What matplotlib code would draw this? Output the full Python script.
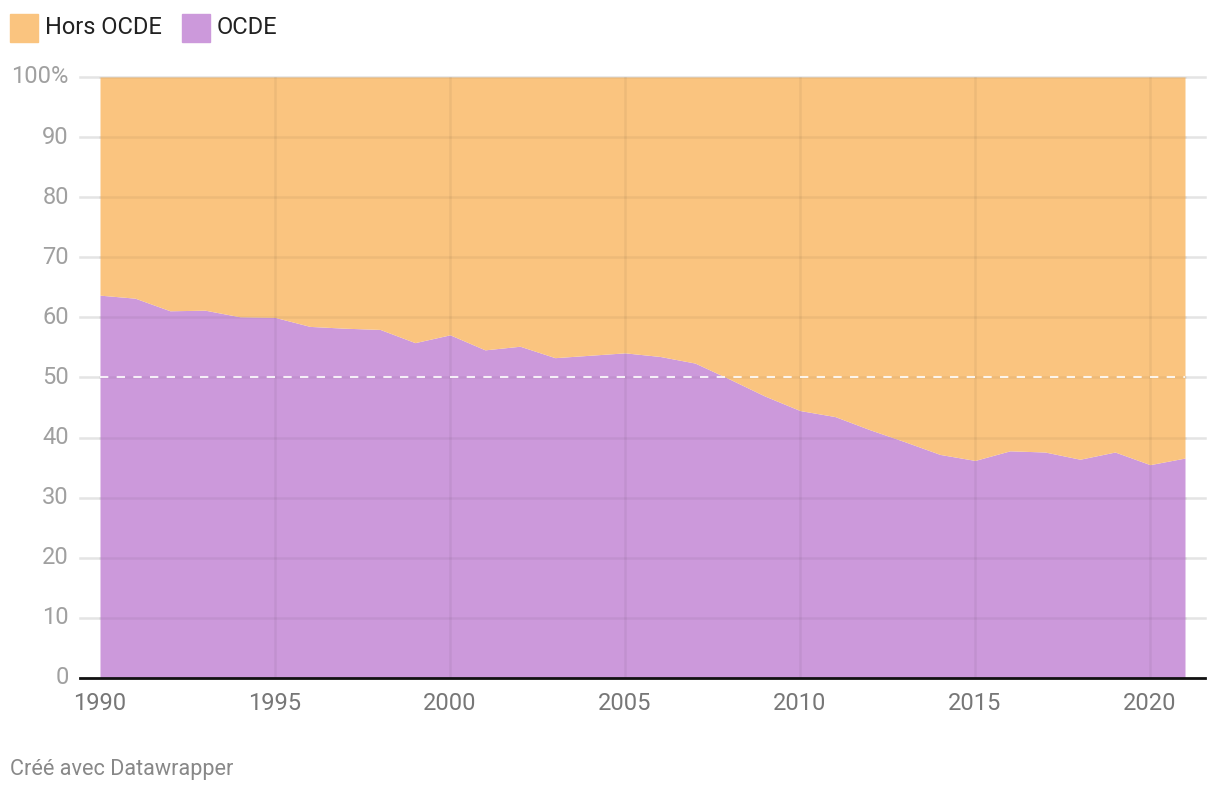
import numpy as np
import matplotlib
matplotlib.use('Agg')
import matplotlib.pyplot as plt
from matplotlib.patches import Rectangle

plt.rcParams['font.family'] = ['Roboto', 'DejaVu Sans']

years = list(range(1990, 2022))
ocde = [63.7, 63.2, 61.1, 61.2, 60.1, 60.0, 58.5, 58.2, 58.0, 55.8,
        57.1, 54.6, 55.2, 53.3, 53.7, 54.1, 53.5, 52.4, 49.7, 46.9,
        44.5, 43.5, 41.3, 39.3, 37.2, 36.2, 37.8, 37.6, 36.4, 37.6,
        35.5, 36.6]
hors_ocde = [100 - v for v in ocde]
series_names = ['Hors OCDE', 'OCDE']
yticks = [0, 10, 20, 30, 40, 50, 60, 70, 80, 90, 100]
ytick_labels = ['0', '10', '20', '30', '40', '50', '60', '70', '80', '90', '100%']
xticks = [1990, 1995, 2000, 2005, 2010, 2015, 2020]

c_orange = '#fac47f'
c_purple = '#cc99db'

fig = plt.figure(figsize=(12.2, 7.94), dpi=100)
ax = fig.add_axes([80/1220, 116/794, 1125/1220, 601/794])

y = np.array(years)
ocde_a = np.array(ocde)
ax.fill_between(y, 0, ocde_a, color=c_purple, lw=0, zorder=1)
ax.fill_between(y, ocde_a, ocde_a + np.array(hors_ocde), color=c_orange, lw=0, zorder=1)

ax.set_xlim(1990 - 20/35, 2021 + 20/35)
ax.set_ylim(0, 100)

# grid: light gray under the areas, faint dark over them
for t in yticks[1:]:
    ax.axhline(t, color='#e4e4e4', lw=1.8, zorder=0.5, clip_on=False)
    ax.plot([1990, 2021], [t, t], color='black', alpha=0.05, lw=1.8, zorder=2)
for t in xticks[1:]:
    ax.plot([t, t], [0, 100], color='black', alpha=0.05, lw=1.8, zorder=2)
ax.plot([1990, 2021], [50, 50], color='white', alpha=0.85, lw=1.5,
        dashes=(4, 4), zorder=3)
ax.axhline(0, color='#111111', lw=2, zorder=4, clip_on=False)

for s in ax.spines.values():
    s.set_visible(False)
ax.set_yticks(yticks)
ax.set_yticklabels(ytick_labels)
ax.set_xticks(xticks)
ax.tick_params(axis='both', length=0, labelsize=17)
ax.tick_params(axis='y', colors='#a0a0a0', pad=8)
ax.tick_params(axis='x', colors='#777777', pad=10)
for lab in ax.get_yticklabels():
    lab.set_verticalalignment('center')

# legend
for i, (name, col) in enumerate(zip(series_names, [c_orange, c_purple])):
    x0 = [10, 182][i]
    fig.patches.append(Rectangle((x0/1220, 1 - 42/794), 28/1220, 28/794,
                                 transform=fig.transFigure, color=col))
    fig.text((x0 + 35)/1220, 1 - 27/794, name, fontsize=17, color='#222222',
             va='center', ha='left')

fig.text(10/1220, 1 - 770/794, 'Créé avec Datawrapper', fontsize=15.6,
         color='#888888', va='center', ha='left')

fig.savefig('out.png', dpi=100)
